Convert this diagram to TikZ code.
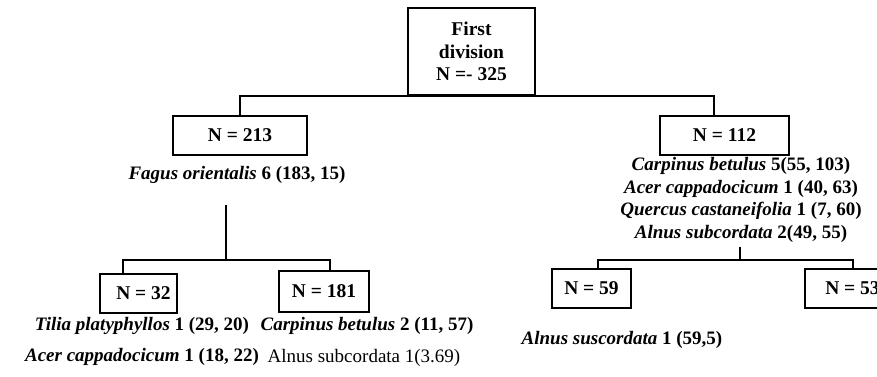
\documentclass[tikz,border=0pt]{standalone}
\usepackage{fontspec}
\setmainfont{Liberation Serif}
\begin{document}
\begin{tikzpicture}[x=1pt,y=-1pt,
  txt/.style={font=\fontsize{19}{22.5}\selectfont\bfseries, inner sep=0pt, align=center},
  plain/.style={font=\fontsize{19}{22.5}\selectfont, inner sep=0pt, align=center},
  nbox/.style={draw, line width=2.4pt, font=\fontsize{19.5}{22.5}\selectfont\bfseries, inner sep=0pt, align=center},
  link/.style={line width=2pt}]
\useasboundingbox (0,0) rectangle (877,376);
\clip (0,0) rectangle (877,376);

% boxes
\node[nbox, minimum width=127pt, minimum height=87pt] (top) at (471.5,51.5) {First\\division\\N =- 325};
\node[nbox, minimum width=134pt, minimum height=39pt] (b213) at (240,135.5) {N = 213};
\node[nbox, minimum width=129pt, minimum height=39pt] (b112) at (724.5,135.5) {N = 112};
\node[nbox, minimum width=77pt, minimum height=39pt] (b32) at (138.5,293.5) {\hspace*{10pt}N = 32};
\node[nbox, minimum width=90pt, minimum height=41pt] (b181) at (324,291.5) {N = 181};
\node[nbox, minimum width=79pt, minimum height=39pt] (b59) at (591.5,288.5) {N = 59};
\node[nbox, minimum width=95pt, minimum height=39pt] (b53) at (852.5,288.5) {N = 53};

% texts
\node[txt] (fagus) at (237,175) {\textit{Fagus orientalis} 6 (183, 15)};
\node[txt] (right) at (741,200) {\textit{Carpinus betulus} 5(55, 103)\\\textit{Acer cappadocicum} 1 (40, 63)\\\textit{Quercus castaneifolia} 1 (7, 60)\\\textit{Alnus subcordata} 2(49, 55)};
\node[txt] (tilia) at (142,326) {\textit{Tilia platyphyllos} 1 (29, 20)};
\node[txt] (acer) at (142,357) {\textit{Acer cappadocicum} 1 (18, 22)};
\node[txt] (carp) at (367,326) {\textit{Carpinus betulus} 2 (11, 57)};
\node[plain] (alnus1) at (364,358) {Alnus subcordata 1(3.69)};
\node[txt] (alnus2) at (622,340) {\textit{Alnus suscordata} 1 (59,5)};

% connectors, top level
\draw[link] (top.south west) -- (top.south east);
\draw[link] (top.south) -| (b213.north);
\draw[link] (top.south) -| ([xshift=-10.5pt]b112.north);

% left split
\coordinate (j1) at (226,205);
\coordinate (h1) at (226,260);
\draw[link] (j1) -- (h1);
\draw[link] ([xshift=-15.5pt]b32.north) |- (h1) -| ([xshift=6pt]b181.north);

% right split
\coordinate (j2) at (740,247);
\coordinate (h2) at (740,260);
\draw[link] (j2) -- (h2);
\draw[link] ([xshift=6.5pt]b59.north) |- (h2) -| ([xshift=0.5pt]b53.north);
\end{tikzpicture}
\end{document}
